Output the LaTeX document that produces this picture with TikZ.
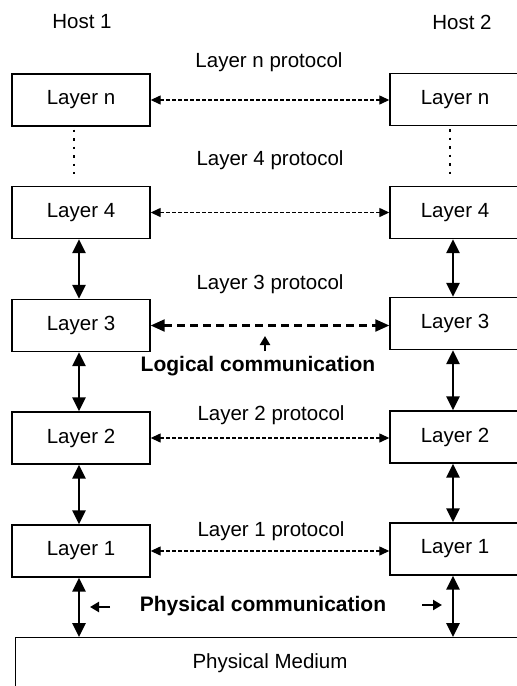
\documentclass[tikz,border=0pt]{standalone}
\usepackage{fontspec}
\setmainfont{Liberation Sans}
\usetikzlibrary{arrows.meta}
\begin{document}
\begin{tikzpicture}[x=1pt,y=-1pt,
  font=\fontsize{20.5}{24}\selectfont,
  every node/.style={inner sep=0pt},
  layerbox/.style={draw, line width=1.4pt, minimum width=138pt, minimum height=52pt},
  rlayerbox/.style={layerbox, minimum width=130pt},
  proto/.style={dash pattern=on 4pt off 2pt, line width=1.3pt,
     {Triangle[length=10pt,width=9pt]}-{Triangle[length=10pt,width=9pt]}},
  bigproto/.style={dash pattern=on 8pt off 5pt, line width=2.2pt,
     {Triangle[length=14pt,width=12pt]}-{Triangle[length=14pt,width=12pt]}},
  vert/.style={line width=2.8pt,
     {Triangle[length=14pt,width=13pt]}-{Triangle[length=14pt,width=13pt]}},
  dotline/.style={line width=1.4pt, dash pattern=on 2.5pt off 6pt},
  smallarrow/.style={line width=2.4pt, -{Triangle[length=9pt,width=10pt]}},
  boldlabel/.style={font=\fontsize{21}{24}\selectfont\bfseries}
]
\useasboundingbox (0,0) rectangle (517,686);

% hosts
\node (h1) at (82,22) {Host 1};
\node (h2) at (462,22) {Host 2};

% left stack
\node[layerbox] (Ln) at (81,100) {Layer n};
\node[layerbox] (L4) at (81,212.5) {Layer 4};
\node[layerbox] (L3) at (81,325.5) {Layer 3};
\node[layerbox] (L2) at (81,438) {Layer 2};
\node[layerbox] (L1) at (81,551) {Layer 1};

% right stack
\node[rlayerbox] (Rn) at (455,99.5) {Layer n};
\node[rlayerbox] (R4) at (455,212.5) {Layer 4};
\node[rlayerbox] (R3) at (455,323.5) {Layer 3};
\node[rlayerbox] (R2) at (455,437) {Layer 2};
\node[rlayerbox] (R1) at (455,549) {Layer 1};

% physical medium
\node[draw, line width=1.4pt, minimum width=520pt, minimum height=70pt, anchor=north west] (PM) at (15,637) {};
\node (pmt) at (270,663) {Physical Medium};

% protocol labels
\node (pn) at (269,62) {Layer n protocol};
\node (p4) at (270,160) {Layer 4 protocol};
\node (p3) at (270,284) {Layer 3 protocol};
\node (p2) at (271,415) {Layer 2 protocol};
\node (p1) at (271,531) {Layer 1 protocol};

% protocol arrows
\draw[proto] (Ln.east) -- (Ln.east -| Rn.west);
\draw[proto] (L4.east) -- (L4.east -| R4.west);
\draw[bigproto] (L3.east) -- (L3.east -| R3.west);
\draw[proto] (L2.east) -- (L2.east -| R2.west);
\draw[proto] (L1.east) -- (L1.east -| R1.west);

% dotted continuation
\draw[dotline, shorten <=3pt, shorten >=12pt] ([xshift=-7pt]Ln.south) -- ([xshift=-7pt]L4.north);
\draw[dotline, shorten <=3pt, shorten >=12pt] ([xshift=-5pt]Rn.south) -- ([xshift=-5pt]R4.north);

% vertical arrows
\draw[vert] ([xshift=-2pt]L4.south) -- ([xshift=-2pt]L3.north);
\draw[vert] ([xshift=-2pt]L3.south) -- ([xshift=-2pt]L2.north);
\draw[vert] ([xshift=-2pt]L2.south) -- ([xshift=-2pt]L1.north);
\draw[vert] ([xshift=-2pt]L1.south) -- ([xshift=-2pt]L1.south |- PM.north);
\draw[vert] ([xshift=-2pt]R4.south) -- ([xshift=-2pt]R3.north);
\draw[vert] ([xshift=-2pt]R3.south) -- ([xshift=-2pt]R2.north);
\draw[vert] ([xshift=-2pt]R2.south) -- ([xshift=-2pt]R1.north);
\draw[vert] ([xshift=-2pt]R1.south) -- ([xshift=-2pt]R1.south |- PM.north);

% logical communication
\node[boldlabel] (logic) at (258,366) {Logical communication};
\coordinate (lctip) at (265,336);
\coordinate (lctail) at (265,351);
\draw[smallarrow] (lctail) -- (lctip);

% physical communication
\node[boldlabel] (phys) at (263,606) {Physical communication};
\coordinate (pla) at (110,607);
\coordinate (plb) at (90,607);
\coordinate (pra) at (422,605);
\coordinate (prb) at (442,605);
\draw[smallarrow] (pla) -- (plb);
\draw[smallarrow] (pra) -- (prb);
\end{tikzpicture}
\end{document}
